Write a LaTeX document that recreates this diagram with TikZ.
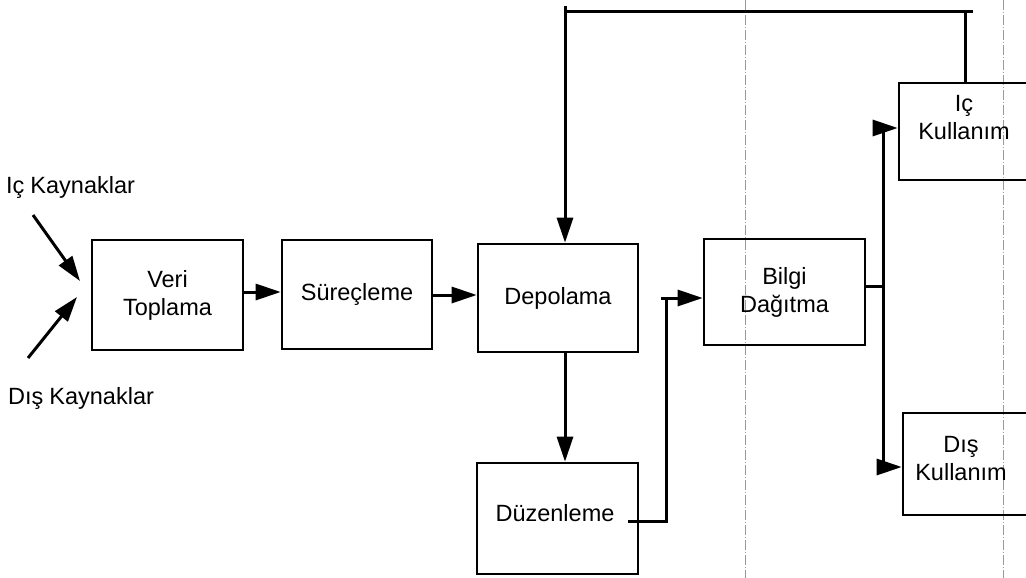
\documentclass[tikz,border=0pt]{standalone}
\usepackage{fontspec}
\setmainfont{Liberation Sans}
\usetikzlibrary{arrows.meta,calc}

\tikzset{
  box/.style={draw, line width=2.6pt, rectangle, inner sep=0pt},
  lbl/.style={font=\fontsize{23.5}{28}\selectfont, align=center, inner sep=0pt},
  conn/.style={line width=3pt},
  arr/.style={conn, -{Triangle[length=25pt,width=16pt]}},
  fold/.style={gray!80, line width=0.7pt, dash pattern=on 10pt off 2pt on 1pt off 2pt}
}

\begin{document}
\begin{tikzpicture}[x=1pt, y=-1pt]
  \useasboundingbox (0,0) rectangle (1026,578);
  \clip (0,0) rectangle (1026,578);
  \fill[white] (0,0) rectangle (1026,578);

  % faint fold lines of the sheet
  \draw[fold] (745,0) -- (745,578);
  \draw[fold] (1003,0) -- (1003,578);

  % process boxes
  \node[box, lbl, minimum width=151pt, minimum height=110pt] (veri) at (167.5,295) {Veri\\Toplama};
  \node[box, lbl, minimum width=150pt, minimum height=109pt] (surec) at (357,294.5) {Süreçleme};
  \node[box, lbl, minimum width=160pt, minimum height=108pt] (depo) at (558,298) {Depolama};
  \node[box, minimum width=161pt, minimum height=111pt] (duzen) at (557.5,518.5) {};
  \node[lbl] (duzentxt) at (555,513) {Düzenleme};
  \node[box, lbl, minimum width=161pt, minimum height=106pt] (bilgi) at (784.5,292) {Bilgi\\Dağıtma};
  \node[box, minimum width=161pt, minimum height=97pt] (ickul) at (979.5,131.5) {};
  \node[lbl] (ickultxt) at (964,118) {Iç\\Kullanım};
  \node[box, minimum width=161pt, minimum height=102pt] (diskul) at (983.5,464) {};
  \node[lbl] (diskultxt) at (961,459) {Dış\\Kullanım};

  % sources
  \node[lbl, anchor=west] (ic) at (6,187) {Iç\hspace{6pt}Kaynaklar};
  \node[lbl, anchor=west] (dis) at (8,398) {Dış\hspace{6pt}Kaynaklar};
  \coordinate (icstart) at (33,215);
  \coordinate (ictip) at (80,281);
  \coordinate (disstart) at (28,358);
  \coordinate (distip) at (77,297);
  \draw[arr] (icstart) -- (ictip);
  \draw[arr] (disstart) -- (distip);

  % main flow
  \draw[arr] (veri.east |- 0,292) -- (surec.west |- 0,292);
  \draw[arr] (surec.east |- 0,295) -- (depo.west |- 0,295);
  \draw[arr] (depo.south -| 565,0) -- (duzen.north -| 565,0);

  % Duzenleme back to Bilgi Dagitma
  \coordinate (dzout) at (628,521);
  \coordinate (dzup) at (666,298);
  \draw[conn] (dzout) -| (dzup);
  \draw[arr] ($(dzup)+(-5,0)$) -- (bilgi.west |- dzup);

  % distribution to users
  \coordinate (dsplit) at (883,286);
  \coordinate (dtop) at (883,128);
  \coordinate (dbot) at (883,467);
  \draw[conn] (bilgi.east |- dsplit) -- (dsplit);
  \draw[conn] (dtop) -- (dbot);
  \draw[arr] (dtop) -- (ickul.west |- dtop);
  \draw[arr] (dbot) -- (diskul.west |- dbot);

  % feedback from internal use to storage
  \coordinate (fbR) at (965,12);
  \coordinate (fbL) at (565,12);
  \draw[conn] (ickul.north -| fbR) -- (fbR) -- (fbL);
  \draw[conn] (fbR) -- ++(8,0);
  \draw[arr] ($(fbL)+(0,-6)$) -- (depo.north -| fbL);
\end{tikzpicture}
\end{document}
